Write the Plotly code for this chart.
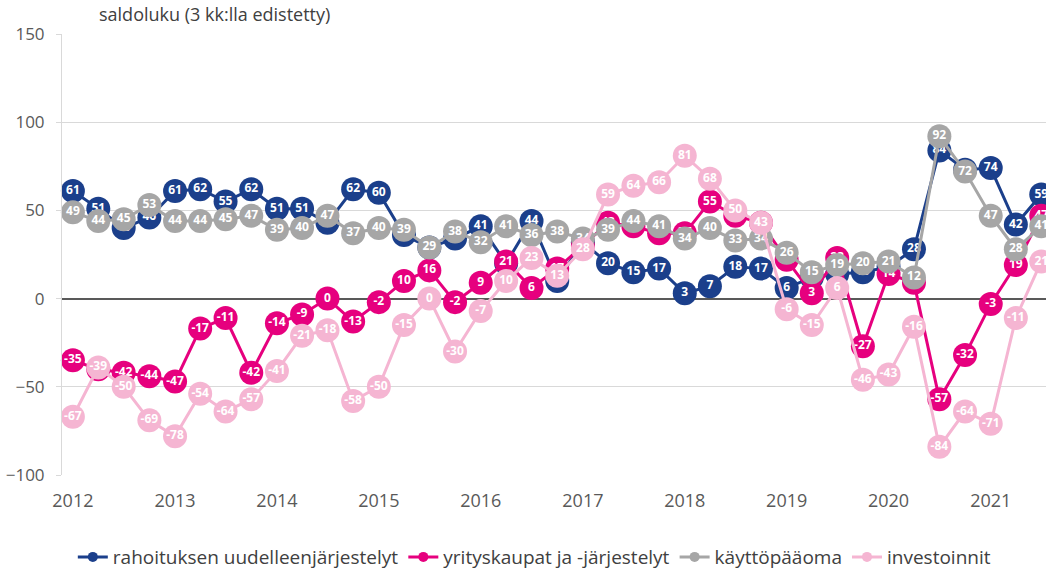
import pandas as pd
import plotly.graph_objects as go

quarters = pd.date_range("2012-01-01", periods=39, freq="QS")

rahoitus = [61, 51, 40, 46, 61, 62, 55, 62, 51, 51, 43, 62, 60, 36, 29, 34, 41, 20, 44, 10,
            32, 20, 15, 17, 3, 7, 18, 17, 6, 12, 14, 15, 18, 28, 84, 73, 74, 42, 59]
yrityskaupat = [-35, -40, -42, -44, -47, -17, -11, -42, -14, -9, 0, -13, -2, 10, 16, -2, 9, 21, 6, 17,
                30, 43, 41, 37, 37, 55, 47, 43, 22, 3, 23, -27, 14, 9, -57, -32, -3, 19, 47]
kayttopaaoma = [49, 44, 45, 53, 44, 44, 45, 47, 39, 40, 47, 37, 40, 39, 29, 38, 32, 41, 36, 38,
                34, 39, 44, 41, 34, 40, 33, 34, 26, 15, 19, 20, 21, 12, 92, 72, 47, 28, 41]
investoinnit = [-67, -39, -50, -69, -78, -54, -64, -57, -41, -21, -18, -58, -50, -15, 0, -30, -7, 10, 23, 13,
                28, 59, 64, 66, 81, 68, 50, 43, -6, -15, 6, -46, -43, -16, -84, -64, -71, -11, 21]

series = [
    ("rahoituksen uudelleenjärjestelyt", rahoitus, "#1b3f8b"),
    ("yrityskaupat ja -järjestelyt", yrityskaupat, "#e6007e"),
    ("käyttöpääoma", kayttopaaoma, "#a6a6a6"),
    ("investoinnit", investoinnit, "#f5b5d2"),
]

FONT = "Open Sans"
fig = go.Figure()
for name, vals, col in series:
    fig.add_trace(go.Scatter(
        x=quarters, y=vals, mode="lines+markers+text", name=name, showlegend=False,
        line=dict(color=col, width=3),
        marker=dict(size=24, color=col, line=dict(width=0)),
        text=[str(v) for v in vals], textposition="middle center",
        textfont=dict(color="white", size=12, family=FONT, weight="bold"),
        cliponaxis=False,
    ))
for name, vals, col in series:
    fig.add_trace(go.Scatter(
        x=[None], y=[None], mode="lines+markers", name=name,
        line=dict(color=col, width=3), marker=dict(size=10, color=col),
    ))

fig.update_layout(
    width=1046, height=571,
    margin=dict(l=62, r=0, t=34, b=96, autoexpand=False),
    plot_bgcolor="white", paper_bgcolor="white",
    font=dict(family=FONT, size=15, color="#595959"),
    showlegend=True,
    legend=dict(orientation="h", x=0.48, xanchor="center", y=-0.186, yanchor="middle",
                font=dict(size=19, color="#404040"), itemwidth=30, traceorder="normal"),
    annotations=[dict(text="saldoluku (3 kk:lla edistetty)", xref="paper", yref="paper",
                      x=(97 - 62) / 984, y=1 + (34 - 14) / 441, xanchor="left", yanchor="middle",
                      showarrow=False, font=dict(size=18, color="#404040", family=FONT))],
)
fig.update_xaxes(
    type="date", range=["2011-11-23", "2021-07-18"], dtick="M12", tick0="2012-01-01",
    tickformat="%Y", showgrid=False, zeroline=False, showline=False, ticks="",
    tickfont=dict(size=18, color="#595959"), automargin=False, ticklabelstandoff=13,
)
fig.update_yaxes(
    range=[-100, 150], dtick=50, showgrid=True, gridcolor="#d9d9d9", gridwidth=1,
    zeroline=True, zerolinecolor="#595959", zerolinewidth=2,
    showline=True, linecolor="#d9d9d9", linewidth=1, ticks="outside", ticklen=5, tickcolor="#d9d9d9",
    tickfont=dict(size=17, color="#595959"), automargin=False, ticklabelstandoff=8,
)
fig.write_html("out.html", config={"displayModeBar": False},
               post_script="document.body.style.margin='0';document.body.style.overflow='hidden';")
